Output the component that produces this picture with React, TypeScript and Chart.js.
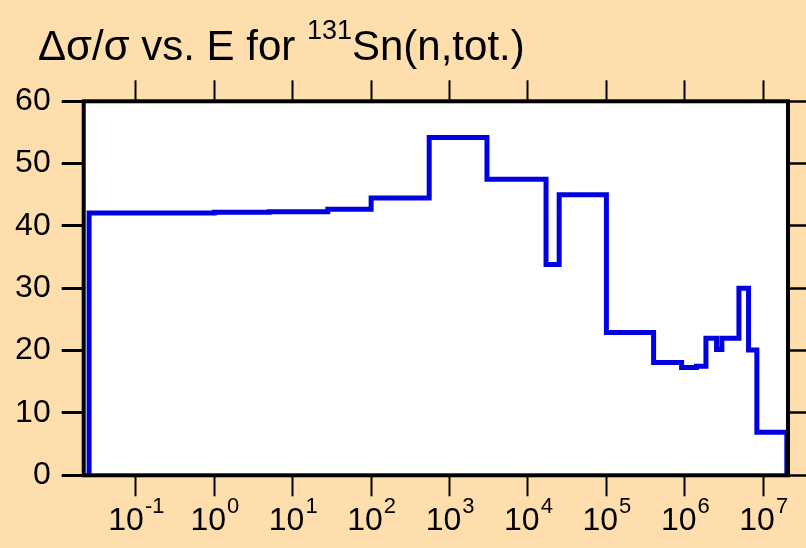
import React, { useEffect, useRef } from 'react';
import { Chart, registerables } from 'chart.js';

Chart.register(...registerables);

// ---- data (energies in eV, uncertainty in %) ----
const energies = [0.0253, 0.0253, 1, 5, 28, 100, 550, 3000, 17000, 25000, 1e5, 4e5, 9.1e5, 1.41e6, 1.86e6, 2.54e6, 2.97e6, 4.9e6, 6.5e6, 8.3e6, 2e7];
const uncertainty = [0, 42.1, 42.2, 42.3, 42.7, 44.5, 54.2, 47.5, 33.8, 45.0, 22.9, 18.1, 17.3, 17.5, 22.0, 20.2, 22.0, 30.0, 20.1, 6.9, 0];
const yTicks = [0, 10, 20, 30, 40, 50, 60];
const xDecades = [-1, 0, 1, 2, 3, 4, 5, 6, 7];
const titleMain1 = 'Δσ/σ vs. E for ';
const titleSup = '131';
const titleMain2 = 'Sn(n,tot.)';

const X_MIN = 0.0216;
const X_MAX = 2.07e7;
const FONT = "'Liberation Sans', Arial, Helvetica, sans-serif";
const BG = '#FFDEAD';

const W = 806;
const H = 548;
const AREA = { left: 83.7, right: 788, top: 101.3, bottom: 475.3 };

const decorPlugin = {
  id: 'decor',
  beforeDraw(chart: any) {
    const { ctx, chartArea } = chart;
    ctx.save();
    ctx.fillStyle = BG;
    ctx.fillRect(0, 0, chart.width, chart.height);
    ctx.fillStyle = '#ffffff';
    ctx.fillRect(chartArea.left, chartArea.top, chartArea.right - chartArea.left, chartArea.bottom - chartArea.top);
    ctx.restore();
  },
  afterDatasetsDraw(chart: any) {
    const { ctx, chartArea } = chart;
    ctx.save();
    ctx.strokeStyle = '#000';
    ctx.lineWidth = 4;
    ctx.strokeRect(chartArea.left, chartArea.top, chartArea.right - chartArea.left, chartArea.bottom - chartArea.top);
    ctx.restore();
  },
  afterDraw(chart: any) {
    const { ctx } = chart;
    const xs = chart.scales.x;
    ctx.save();
    ctx.fillStyle = '#000';
    ctx.textAlign = 'left';
    ctx.textBaseline = 'alphabetic';
    for (const d of xDecades) {
      const px = xs.getPixelForValue(Math.pow(10, d));
      const base = '10';
      const sup = String(d);
      ctx.font = `32px ${FONT}`;
      const wb = ctx.measureText(base).width;
      ctx.font = `22px ${FONT}`;
      const ws = ctx.measureText(sup).width;
      const start = px - (wb + ws) / 2;
      ctx.font = `32px ${FONT}`;
      ctx.fillText(base, start, 530);
      ctx.font = `22px ${FONT}`;
      ctx.fillText(sup, start + wb + 1, 513);
    }
    // title
    let x = 38;
    ctx.font = `42px ${FONT}`;
    ctx.fillText(titleMain1, x, 59.5);
    x += ctx.measureText(titleMain1).width;
    ctx.font = `27px ${FONT}`;
    ctx.fillText(titleSup, x, 38.5);
    x += ctx.measureText(titleSup).width;
    ctx.font = `42px ${FONT}`;
    ctx.fillText(titleMain2, x, 59.5);
    ctx.restore();
  },
};

function decadeTicks(scale: any) {
  scale.ticks = xDecades.map((d) => ({ value: Math.pow(10, d) }));
}
function yTickBuild(scale: any) {
  scale.ticks = yTicks.map((v) => ({ value: v }));
}

export default function App() {
  const ref = useRef<HTMLCanvasElement | null>(null);
  useEffect(() => {
    document.body.style.margin = '0';
    const canvas = ref.current!;
    const points = energies.map((e, i) => ({ x: e, y: uncertainty[i] }));
    const chart = new Chart(canvas, {
      type: 'line',
      data: {
        datasets: [
          {
            data: points,
            borderColor: '#0000E0',
            borderWidth: 5,
            pointRadius: 0,
            fill: false,
            stepped: 'before',
            tension: 0,
          } as any,
        ],
      },
      options: {
        animation: false,
        responsive: false,
        devicePixelRatio: 1,
        layout: { padding: { top: AREA.top - 30, left: 0, right: 0, bottom: 0 } },
        plugins: {
          legend: { display: false },
          title: { display: false },
          tooltip: { enabled: false },
        },
        scales: {
          x: {
            type: 'logarithmic',
            position: 'bottom',
            min: X_MIN,
            max: X_MAX,
            afterBuildTicks: decadeTicks,
            ticks: { display: false },
            grid: { drawOnChartArea: false, drawTicks: true, tickLength: 21, tickWidth: 2, tickColor: '#000' },
            border: { display: false },
            afterFit: (s: any) => { s.height = H - AREA.bottom; },
          },
          x2: {
            type: 'logarithmic',
            position: 'top',
            min: X_MIN,
            max: X_MAX,
            afterBuildTicks: decadeTicks,
            ticks: { display: false },
            grid: { drawOnChartArea: false, drawTicks: true, tickLength: 21, tickWidth: 2, tickColor: '#000' },
            border: { display: false },
            afterFit: (s: any) => { s.height = 30; },
          },
          y: {
            type: 'linear',
            position: 'left',
            min: 0,
            max: 60,
            afterBuildTicks: yTickBuild,
            ticks: { color: '#000', font: { family: FONT, size: 32 }, padding: 11 },
            grid: { drawOnChartArea: false, drawTicks: true, tickLength: 22, tickWidth: 3, tickColor: '#000' },
            border: { display: false },
            afterFit: (s: any) => { s.width = AREA.left; },
          },
          y2: {
            type: 'linear',
            position: 'right',
            min: 0,
            max: 60,
            afterBuildTicks: yTickBuild,
            ticks: { display: false },
            grid: { drawOnChartArea: false, drawTicks: true, tickLength: 20, tickWidth: 2.5, tickColor: '#000' },
            border: { display: false },
            afterFit: (s: any) => { s.width = W - AREA.right; },
          },
        },
      } as any,
      plugins: [decorPlugin],
    });
    return () => chart.destroy();
  }, []);
  return (
    <div style={{ width: W, height: H, position: 'relative' }}>
      <canvas ref={ref} width={W} height={H} style={{ display: 'block', width: W, height: H }} />
    </div>
  );
}
